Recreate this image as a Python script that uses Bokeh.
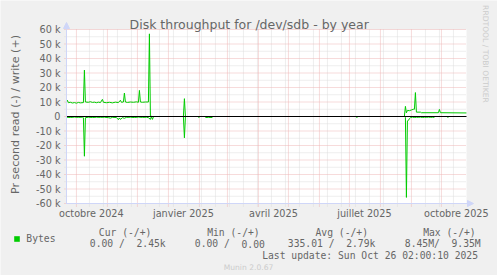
import math
import numpy as np
import pandas as pd
from bokeh.plotting import figure
from bokeh.models import (ColumnDataSource, FixedTicker, Label, Arrow, BoxAnnotation,
                          NormalHead, Legend, LegendItem, Range1d)
from bokeh.embed import file_html
from bokeh.resources import INLINE

# ---------------- data ----------------
range_start = "2024-09-21 02:00:10"
range_end = "2025-10-26 02:00:10"

write_dates = [
    "2024-09-21", "2024-09-22", "2024-09-23", "2024-09-25", "2024-09-27", "2024-09-29",
    "2024-10-01", "2024-10-03", "2024-10-05", "2024-10-08", "2024-10-09", "2024-10-10",
    "2024-10-13", "2024-10-15", "2024-10-17", "2024-10-19", "2024-10-21", "2024-10-23",
    "2024-10-25", "2024-10-27", "2024-10-28", "2024-10-31", "2024-11-03", "2024-11-06",
    "2024-11-09", "2024-11-12", "2024-11-14", "2024-11-15", "2024-11-17", "2024-11-18",
    "2024-11-19", "2024-11-21", "2024-11-24", "2024-11-27", "2024-11-30", "2024-12-02",
    "2024-12-03", "2024-12-04", "2024-12-06", "2024-12-09", "2024-12-12", "2024-12-13",
    "2024-12-14", "2024-12-15",
    "2024-12-31",
    "2025-01-16", "2025-01-17", "2025-01-18",
    "2025-05-01",
    "2025-08-25", "2025-08-26", "2025-08-27", "2025-08-28", "2025-08-30", "2025-09-01",
    "2025-09-03", "2025-09-04", "2025-09-05", "2025-09-06", "2025-09-10", "2025-09-11",
    "2025-09-28", "2025-09-29", "2025-09-30", "2025-10-26",
]
write_values = [
    9800, 11200, 9500, 9800, 9300, 9600,
    9200, 9700, 9400, 9600, 32000, 10000,
    9800, 10200, 9700, 9900, 9500, 9900,
    9600, 11800, 9800, 9500, 9800, 9400,
    9900, 9600, 11200, 9800, 10000, 16200,
    10000, 9700, 10000, 9800, 10100, 9800,
    18000, 10000, 9800, 10000, 10000, 57000,
    400, 300,
    None,
    200, 12300, 200,
    None,
    300, 7000, 2500, 4200, 4000, 4500,
    5000, 5000, 16500, 3000, 3000, 2600,
    2600, 4900, 2600, 2450,
]

read_dates = [
    "2024-09-21", "2024-09-25", "2024-09-29", "2024-10-03", "2024-10-07", "2024-10-08",
    "2024-10-09", "2024-10-10", "2024-10-13", "2024-10-17", "2024-10-21", "2024-10-25",
    "2024-10-29", "2024-11-02", "2024-11-04", "2024-11-06", "2024-11-10", "2024-11-12",
    "2024-11-13", "2024-11-14", "2024-11-16", "2024-11-18", "2024-11-20", "2024-11-24",
    "2024-11-28", "2024-12-02", "2024-12-06", "2024-12-10", "2024-12-12", "2024-12-14",
    "2024-12-15", "2024-12-16", "2024-12-17",
    "2024-12-31",
    "2025-01-16", "2025-01-17", "2025-01-18",
    "2025-01-24",
    "2025-01-31", "2025-02-01",
    "2025-02-04",
    "2025-02-07", "2025-02-10", "2025-02-14",
    "2025-05-01",
    "2025-07-08", "2025-07-09",
    "2025-08-01",
    "2025-08-26", "2025-08-27", "2025-08-28", "2025-08-29", "2025-08-30", "2025-08-31",
    "2025-09-02", "2025-09-04", "2025-09-06", "2025-09-08", "2025-09-10", "2025-09-12",
    "2025-09-14", "2025-09-16", "2025-09-18", "2025-09-20", "2025-09-22", "2025-09-24",
    "2025-10-01",
    "2025-10-07", "2025-10-08",
]
read_values = [
    -500, -700, -400, -600, -500, -800,
    -27400, -800, -500, -700, -500, -600,
    -500, -800, -1100, -600, -700, -2200,
    -1000, -2000, -800, -1200, -600, -500,
    -700, -400, -600, -500, -800, -2000,
    0, -2000, -300,
    None,
    -300, -14700, -300,
    None,
    -700, -700,
    None,
    -700, -600, -700,
    None,
    -700, -700,
    None,
    -500, -55800, -3000, -2700, -1500, -800,
    -400, -700, -500, -600, -400, -700,
    -500, -600, -400, -600, -500, -600,
    None,
    -600, -600,
]

y_ticks = [-60000, -50000, -40000, -30000, -20000, -10000, 0,
           10000, 20000, 30000, 40000, 50000, 60000]
y_tick_labels = ["-60 k", "-50 k", "-40 k", "-30 k", "-20 k", "-10 k", "0",
                 "10 k", "20 k", "30 k", "40 k", "50 k", "60 k"]
y_minor_ticks = [-55000, -45000, -35000, -25000, -15000, -5000,
                 5000, 15000, 25000, 35000, 45000, 55000]

month_label_dates = ["2024-10-16", "2025-01-16", "2025-04-16", "2025-07-16", "2025-10-16"]
month_labels = ["octobre 2024", "janvier 2025", "avril 2025", "juillet 2025", "octobre 2025"]

title_text = "Disk throughput for /dev/sdb - by year"
vlabel_text = "Pr second read (-) / write (+)"
series_name = "Bytes"
legend_headers = ["Cur (-/+)", "Min (-/+)", "Avg (-/+)", "Max (-/+)"]
legend_values = ["0.00 /  2.45k", "0.00 /  0.00", "335.01 /  2.79k", "8.45M/  9.35M"]
last_update = "Last update: Sun Oct 26 02:00:10 2025"
watermark = "RRDTOOL / TOBI OETIKER"
munin_version = "Munin 2.0.67"

# ---------------- helpers ----------------
def ms(s):
    return pd.Timestamp(s).value / 1e6

def to_y(vals):
    return np.array([np.nan if v is None else float(v) for v in vals])

x0, x1 = ms(range_start), ms(range_end)
y0, y1 = y_ticks[0], y_ticks[-1]
month_grid = [ms(d) for d in pd.date_range("2024-10-01", "2025-10-01", freq="MS")]
week_grid = [ms(d) for d in pd.date_range("2024-10-14", "2025-10-20", freq="14D")]
week_grid = [w for w in week_grid if w not in month_grid]

# ---------------- layout (pixels) ----------------
W, H = 497, 275
AREA_L, AREA_T, AREA_W, AREA_H = 66, 29, 400, 174   # rrdtool canvas inside the image
AREA_B = AREA_T + AREA_H
xu = (x1 - x0) / AREA_W          # data units per pixel
yu = (y1 - y0) / AREA_H
xr = Range1d(x0 - AREA_L * xu, x0 + (W - AREA_L) * xu)
yr = Range1d(y0 - (H - AREA_B) * yu, y1 + AREA_T * yu)

p = figure(width=W, height=H, x_axis_type="datetime", x_range=xr, y_range=yr,
           output_backend="svg", toolbar_location=None, title=None,
           min_border_left=0, min_border_right=0, min_border_top=0, min_border_bottom=0)
p.border_fill_color = "#f0f0f0"
p.background_fill_color = "#f0f0f0"
p.outline_line_color = None
p.xgrid.visible = False
p.ygrid.visible = False

FONT = "DejaVu Sans"
MONO = "DejaVu Sans Mono"
TXT = "#666666"
AXIS = "#CFD6F8"
MGRID = "#eeb6b6"
GRID = "#dcdcdc"
GREEN = "#00cc00"

# white canvas of the graph
p.add_layout(BoxAnnotation(left=x0, right=x1, bottom=y0, top=y1, fill_color="#ffffff",
                           fill_alpha=1, line_color=None, level="image"))

# grid lines, limited to the canvas (minor first, then major)
nw, nm = len(week_grid), len(month_grid)
p.segment(x0=week_grid, y0=[y0 - 3 * yu] * nw, x1=week_grid, y1=[y1] * nw,
          line_color=GRID, line_width=1, line_dash="1 1")
p.segment(x0=[x0 - 2 * xu] * len(y_minor_ticks), y0=y_minor_ticks,
          x1=[x1] * len(y_minor_ticks), y1=y_minor_ticks,
          line_color=GRID, line_width=1, line_dash="1 1")
p.segment(x0=month_grid, y0=[y0 - 3 * yu] * nm, x1=month_grid, y1=[y1] * nm,
          line_color=MGRID, line_width=1, line_dash="1 1")
p.segment(x0=[x0 - 2 * xu] * len(y_ticks), y0=y_ticks,
          x1=[x1] * len(y_ticks), y1=y_ticks,
          line_color=MGRID, line_width=1, line_dash="1 1")

# axes, fixed on the canvas edges
p.yaxis.fixed_location = x0
p.yaxis.bounds = (y0, y1)
p.yaxis.ticker = FixedTicker(ticks=y_ticks)
p.yaxis.major_label_overrides = {t: l for t, l in zip(y_ticks, y_tick_labels)}
p.yaxis.major_label_text_font = FONT
p.yaxis.major_label_text_font_size = "9.7px"
p.yaxis.major_label_text_color = TXT
p.yaxis.axis_line_color = AXIS
p.yaxis.major_tick_line_color = None
p.yaxis.minor_tick_line_color = None
p.yaxis.major_tick_out = 2
p.yaxis.major_tick_in = 0
p.yaxis.major_label_standoff = 4

xl = [ms(d) for d in month_label_dates]
p.xaxis.fixed_location = y0
p.xaxis.bounds = (x0, x1)
p.xaxis.ticker = FixedTicker(ticks=xl)
p.xaxis.major_label_overrides = {t: l for t, l in zip(xl, month_labels)}
p.xaxis.major_label_text_font = FONT
p.xaxis.major_label_text_font_size = "9.7px"
p.xaxis.major_label_text_color = TXT
p.xaxis.axis_line_color = AXIS
p.xaxis.major_tick_line_color = None
p.xaxis.minor_tick_line_color = None
p.xaxis.major_tick_out = 0
p.xaxis.major_tick_in = 0
p.xaxis.major_label_standoff = 4

# data lines
wsrc = ColumnDataSource(dict(x=pd.to_datetime(write_dates), y=to_y(write_values)))
rsrc = ColumnDataSource(dict(x=pd.to_datetime(read_dates), y=to_y(read_values)))
p.line("x", "y", source=wsrc, line_color=GREEN, line_width=1)
p.line("x", "y", source=rsrc, line_color=GREEN, line_width=1)

# zero rule across the canvas
p.line(x=[x0, x1], y=[0, 0], line_color="#000000", line_width=1)

# axis arrows
p.add_layout(Arrow(end=NormalHead(size=6, fill_color=AXIS, line_color=AXIS),
                   x_start=x0, y_start=y0, x_end=x1 + 7 * xu, y_end=y0,
                   line_color=AXIS, line_width=1))
p.add_layout(Arrow(end=NormalHead(size=6, fill_color=AXIS, line_color=AXIS),
                   x_start=x0, y_start=y0, x_end=x0, y_end=y1 + 7 * yu,
                   line_color=AXIS, line_width=1))

# texts (cx, cy are pixel positions in the picture, cy = baseline)
def lab(cx, cy, text, size, color=TXT, font=FONT, align="left", angle=0.0):
    p.add_layout(Label(x=cx, y=H - cy, x_units="screen", y_units="screen",
                       text=text, text_font=font, text_font_size=size,
                       text_color=color, text_align=align,
                       text_baseline="alphabetic", angle=angle))

lab(248.7, 24.3, title_text, "12.5px", align="center")
lab(15, 114, vlabel_text, "11.1px", align="center", angle=math.pi / 2)
lab(485, 53.5, watermark, "7.6px", color="#cccccc", align="center", angle=-math.pi / 2)

CHAR_W = 0.602 * 9.7   # width of one DejaVu Sans Mono character at 9.7px
for cx, t in zip([98.3, 206.7, 315.0, 422.7], legend_headers):
    lab(cx, 231.5, t, "9.7px", font=MONO)
for cx, t in zip([89.3, 194.3, 287.3, 404.3], legend_values):
    # SVG collapses repeated spaces: draw the two halves at their monospace columns
    cut = t.index("/") + 1
    rest = t[cut:]
    col = cut + (len(rest) - len(rest.lstrip(" ")))
    lab(cx, 243, t[:cut], "9.7px", font=MONO)
    lab(cx + col * CHAR_W, 243, rest.strip(), "9.7px", font=MONO)
lab(261.7, 254.5, last_update, "9.7px", font=MONO)
lab(248, 267, munin_version, "7.6px", color="#cccccc", align="center")

# legend square + series name
sq = p.quad(left=[np.nan], right=[np.nan], top=[np.nan], bottom=[np.nan],
            fill_color=GREEN, line_color=None)
leg = Legend(items=[LegendItem(label=series_name, renderers=[sq])],
             location=(13.3, H - 243.5),
             label_text_font=MONO, label_text_font_size="9.7px", label_text_color=TXT,
             glyph_width=7, glyph_height=7, label_height=7, label_standoff=6,
             padding=0, margin=0, spacing=0, border_line_color=None,
             background_fill_alpha=0)
p.add_layout(leg)

open("out.html", "w").write(file_html(p, INLINE))
